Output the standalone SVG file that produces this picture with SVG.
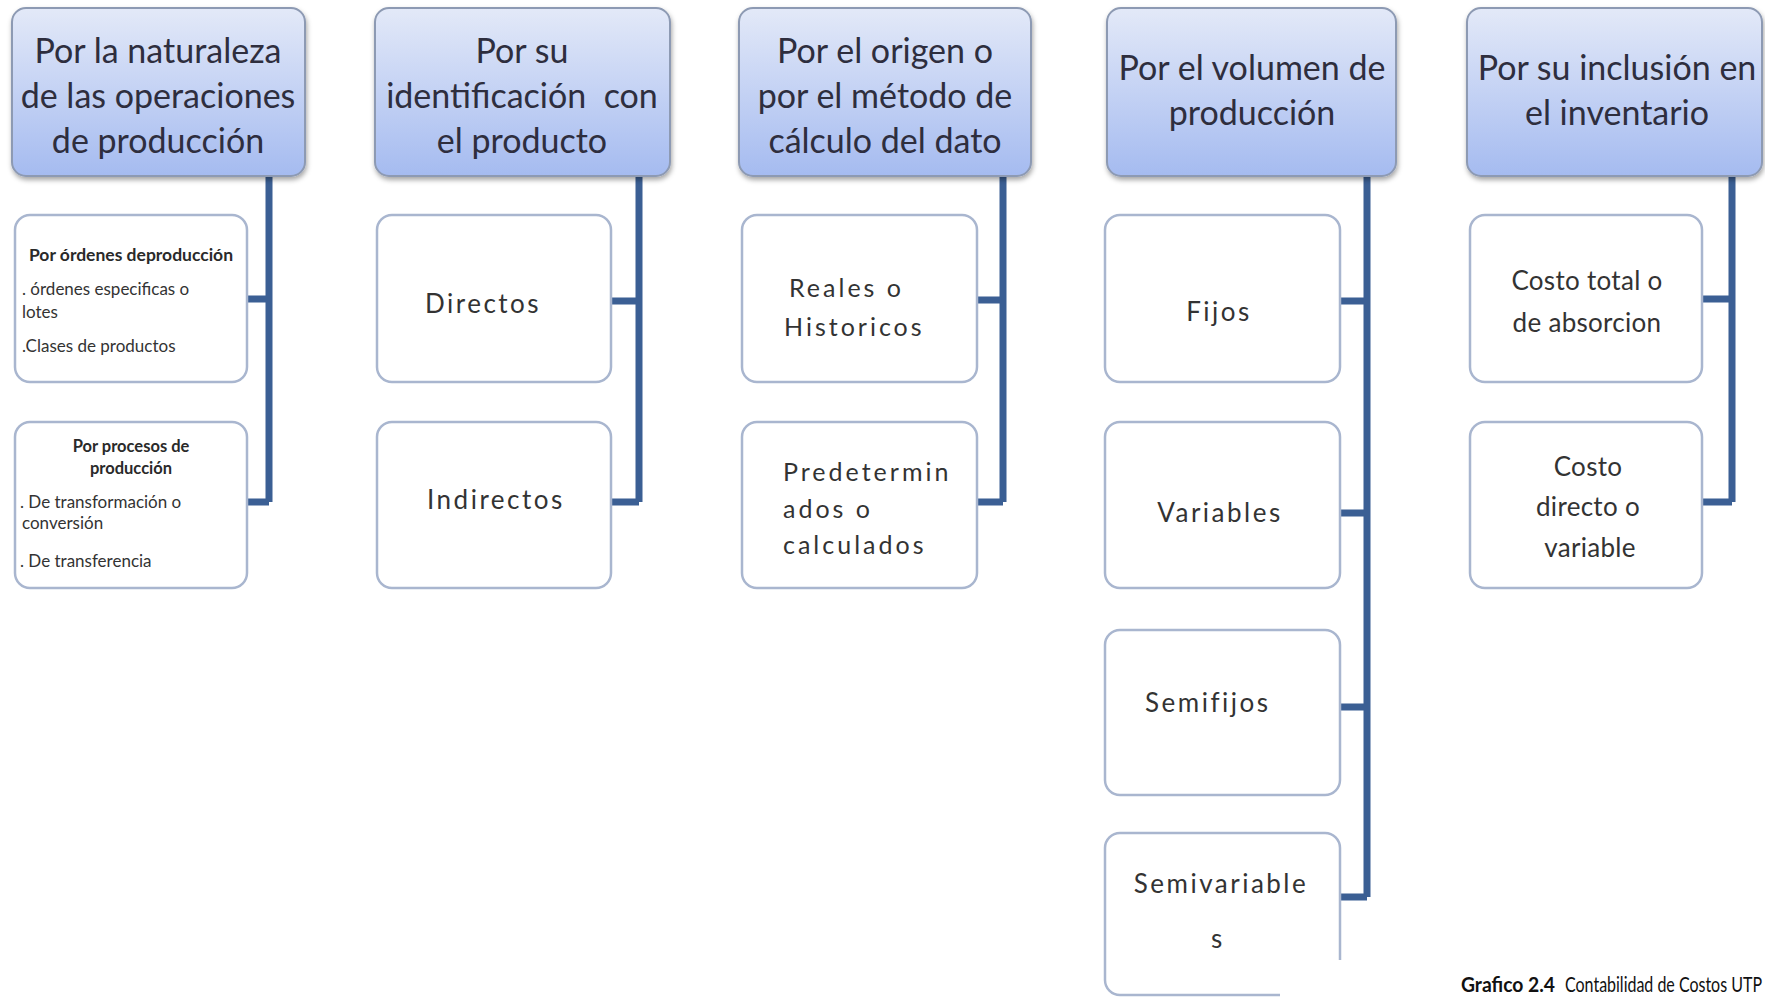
<svg xmlns="http://www.w3.org/2000/svg" width="1765" height="998" viewBox="0 0 1765 998">
<style>
.hd{fill:url(#hg);stroke:#8d9ab3;stroke-width:2;filter:url(#sh)}
.ch{fill:#ffffff;stroke:#a9b6cf;stroke-width:2.5}
.ht{font-family:Lato,"Liberation Sans",sans-serif;font-size:34px;fill:#2e2e3e;text-anchor:middle;white-space:pre}
.ct{font-family:Lato,"Liberation Sans",sans-serif;font-size:26px;fill:#333333;letter-spacing:2.5px}
.c3{letter-spacing:3px;font-size:25px}
.c5{letter-spacing:0.3px}
.cm{text-anchor:middle}
.sb{font-family:Lato,"Liberation Sans",sans-serif;font-weight:bold;fill:#2a2a2a;text-anchor:middle}
.sr{font-family:Lato,"Liberation Sans",sans-serif;font-size:17px;fill:#333333}
.cn{fill:none;stroke:#3b5f94;stroke-width:7;stroke-linejoin:miter}
.cap{font-family:Lato,"Liberation Sans",sans-serif;font-size:21px;fill:#111111}
</style>
<defs>
<linearGradient id="hg" x1="0" y1="0" x2="0" y2="1">
<stop offset="0" stop-color="#e3e9f8"/>
<stop offset="1" stop-color="#a5bbf0"/>
</linearGradient>
<filter id="sh" x="-10%" y="-10%" width="125%" height="130%">
<feDropShadow dx="1" dy="3" stdDeviation="2.5" flood-color="#000000" flood-opacity="0.35"/>
</filter>
</defs>
<rect width="1765" height="998" fill="#ffffff"/>

<g id="connectors">
<path class="cn" d="M269 176 V502 M247 299 H269 M247 502 H269"/>
<path class="cn" d="M639 176 V502 M611 301 H639 M611 502 H639"/>
<path class="cn" d="M1003 176 V502 M977 300 H1003 M977 502 H1003"/>
<path class="cn" d="M1367 176 V897 M1340 301 H1367 M1340 513 H1367 M1340 707 H1367 M1340 897 H1367"/>
<path class="cn" d="M1732 176 V502 M1702 299 H1732 M1702 502 H1732"/>
</g>

<g id="h1"><rect class="hd" x="12" y="8" width="293" height="168" rx="14"/>
<text class="ht" x="158" y="63">Por la naturaleza</text>
<text class="ht" x="158" y="108">de las operaciones</text>
<text class="ht" x="158" y="153">de producción</text></g>
<g id="h2"><rect class="hd" x="375" y="8" width="295" height="168" rx="14"/>
<text class="ht" x="522" y="63">Por su</text>
<text class="ht" x="522" y="108">identificación  con</text>
<text class="ht" x="522" y="153">el producto</text></g>
<g id="h3"><rect class="hd" x="739" y="8" width="292" height="168" rx="14"/>
<text class="ht" x="885" y="63">Por el origen o</text>
<text class="ht" x="885" y="108">por el método de</text>
<text class="ht" x="885" y="153">cálculo del dato</text></g>
<g id="h4"><rect class="hd" x="1107" y="8" width="289" height="168" rx="14"/>
<text class="ht" x="1252" y="80">Por el volumen de</text>
<text class="ht" x="1252" y="125">producción</text></g>
<g id="h5"><rect class="hd" x="1467" y="8" width="295" height="168" rx="14"/>
<text class="ht" x="1617" y="80">Por su inclusión en</text>
<text class="ht" x="1617" y="125">el inventario</text></g>

<g id="c1a"><rect class="ch" x="15" y="215" width="232" height="167" rx="15"/>
<text class="sb" x="131" y="261" font-size="17.5">Por órdenes deproducción</text>
<text class="sr" x="22" y="295">. órdenes especificas o</text>
<text class="sr" x="22" y="318">lotes</text>
<text class="sr" x="22" y="352">.Clases de productos</text></g>
<g id="c1b"><rect class="ch" x="15" y="422" width="232" height="166" rx="15"/>
<text class="sb" x="131" y="452" font-size="16.5">Por procesos de</text>
<text class="sb" x="131" y="474" font-size="16.5">producción</text>
<text class="sr" x="20" y="508">. De transformación o</text>
<text class="sr" x="22" y="529">conversión</text>
<text class="sr" x="20" y="567">. De transferencia</text></g>

<g id="c2a"><rect class="ch" x="377" y="215" width="234" height="167" rx="15"/>
<text class="ct" x="425" y="313">Directos</text></g>
<g id="c2b"><rect class="ch" x="377" y="422" width="234" height="166" rx="15"/>
<text class="ct" x="427" y="509">Indirectos</text></g>

<g id="c3a"><rect class="ch" x="742" y="215" width="235" height="167" rx="15"/>
<text class="ct c3" x="789" y="297">Reales o</text>
<text class="ct c3" x="784" y="336">Historicos</text></g>
<g id="c3b"><rect class="ch" x="742" y="422" width="235" height="166" rx="15"/>
<text class="ct c3" x="783" y="481">Predetermin</text>
<text class="ct c3" x="783" y="518">ados o</text>
<text class="ct c3" x="783" y="554">calculados</text></g>

<g id="c4a"><rect class="ch" x="1105" y="215" width="235" height="167" rx="15"/>
<text class="ct cm" x="1219" y="321">Fijos</text></g>
<g id="c4b"><rect class="ch" x="1105" y="422" width="235" height="166" rx="15"/>
<text class="ct cm" x="1220" y="522">Variables</text></g>
<g id="c4c"><rect class="ch" x="1105" y="630" width="235" height="165" rx="15"/>
<text class="ct" x="1145" y="712">Semifijos</text></g>
<g id="c4d"><rect class="ch" x="1105" y="833" width="235" height="162" rx="15"/>
<text class="ct cm" x="1221" y="893">Semivariable</text>
<text class="ct cm" x="1218" y="948">s</text></g>

<g id="c5a"><rect class="ch" x="1470" y="215" width="232" height="167" rx="15"/>
<text class="ct c5 cm" x="1587" y="290">Costo total o</text>
<text class="ct c5 cm" x="1587" y="332">de absorcion</text></g>
<g id="c5b"><rect class="ch" x="1470" y="422" width="232" height="166" rx="15"/>
<text class="ct c5 cm" x="1588" y="476">Costo</text>
<text class="ct c5 cm" x="1588" y="516">directo o</text>
<text class="ct c5 cm" x="1590" y="557">variable</text></g>

<g id="caption"><rect x="1280" y="960" width="485" height="38" fill="#ffffff"/>
<text class="cap" x="1461" y="992" font-weight="bold" textLength="94" lengthAdjust="spacingAndGlyphs">Grafico 2.4</text>
<text class="cap" x="1565" y="992" textLength="197" lengthAdjust="spacingAndGlyphs">Contabilidad de Costos UTP</text></g>
</svg>
